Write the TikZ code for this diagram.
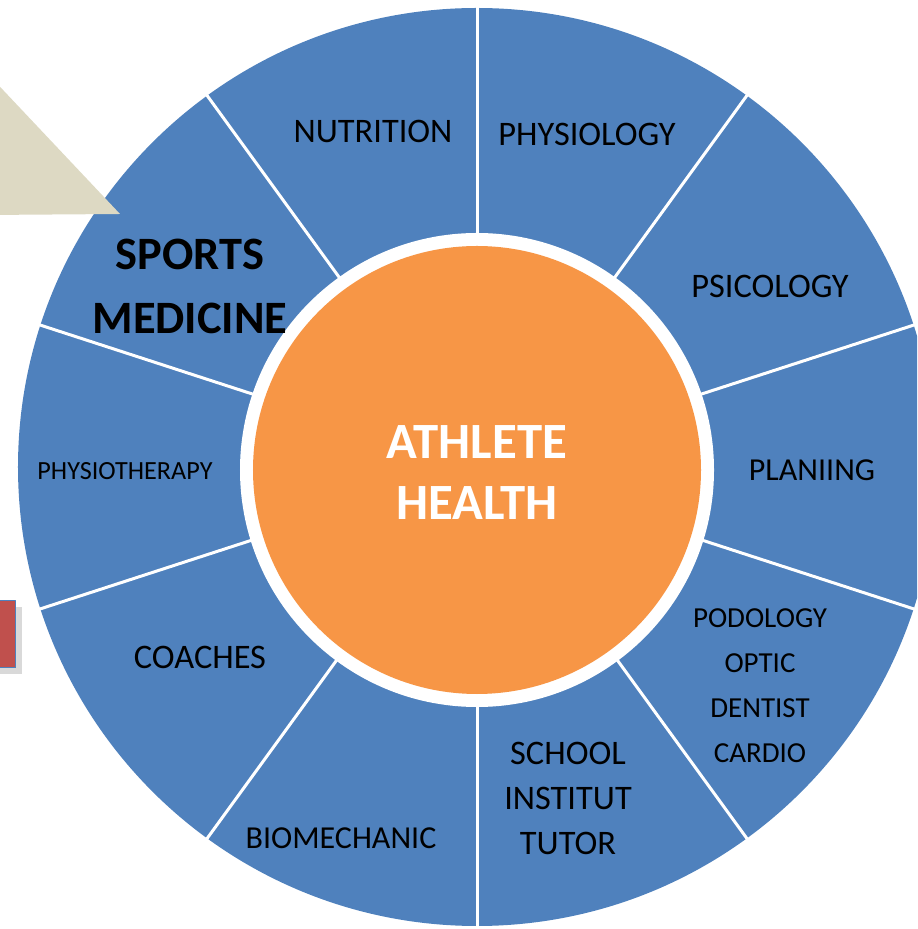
\documentclass[tikz,border=0pt]{standalone}
\usepackage{fontspec}
\setmainfont{Carlito}
\usepackage{xcolor}
\usepackage{tikz}
\usetikzlibrary{shadows}
\definecolor{wheelblue}{HTML}{4F81BD}
\definecolor{huborange}{HTML}{F79646}
\definecolor{tan}{HTML}{DDD9C3}
\definecolor{brick}{HTML}{C0504D}
\begin{document}
\begin{tikzpicture}[x=0.5pt,y=0.5pt,line join=round]
 				 \tikzstyle{spoke}=[white, line width=1.5pt]
 				 \tikzstyle{lbl}=[align=center, inner sep=0pt, font=\fontsize{17.2}{22.5}\selectfont]
 				 \tikzstyle{small}=[lbl, font=\fontsize{14.5}{22.5}\selectfont]
 				 \useasboundingbox (-477,-462) rectangle (440,467);
 				 \clip (-477,-462) rectangle (440,467);
 				 \fill[wheelblue] (0,0) circle (459);
 				 \foreach \a in {18,54,...,342}
 				 	 \draw[spoke] (\a:232) -- (\a:465);
 				 \fill[white] (0,-3) circle (237);
 				 \fill[huborange] (0,-3) circle (224);
 					 \node[align=center, text=white, font=\bfseries\fontsize{25.4}{30.5}\selectfont] (hub) at (0,-6) {ATHLETE\\HEALTH};
 					 \node[lbl]         (nutr) at (-104,336) {NUTRITION};
 					 \node[lbl]         (phys) at (110,333) {PHYSIOLOGY};
 					 \node[lbl]         (psic) at (293,181) {PSICOLOGY};
 					 \node[lbl, font=\fontsize{16}{22.5}\selectfont] (plan) at (335,-3) {PLANIING};
 					 \node[small]       (podo) at (283,-219) {PODOLOGY\\OPTIC\\DENTIST\\CARDIO};
 					 \node[lbl]         (scho) at (91,-331) {SCHOOL\\INSTITUT\\TUTOR};
 					 \node[lbl, font=\fontsize{16}{22.5}\selectfont] (biom) at (-136,-371) {BIOMECHANIC};
 					 \node[lbl]         (coac) at (-277,-190) {COACHES};
 					 \node[lbl, font=\fontsize{13.1}{16}\selectfont] (ther) at (-352,-4) {PHYSIOTHERAPY};
 					 \node[lbl, font=\bfseries\fontsize{23.2}{32}\selectfont] (spmed) at (-287,181) {SPORTS\\MEDICINE};
 				 \fill[tan] (-490,394) -- (-357,253) -- (-490,252) -- cycle;
 				 \draw[wheelblue, line width=0.5pt, fill=brick, drop shadow={shadow xshift=3pt, shadow yshift=-3pt, opacity=0.3}] (-490,-134) rectangle (-461,-201);
\end{tikzpicture}
\end{document}
